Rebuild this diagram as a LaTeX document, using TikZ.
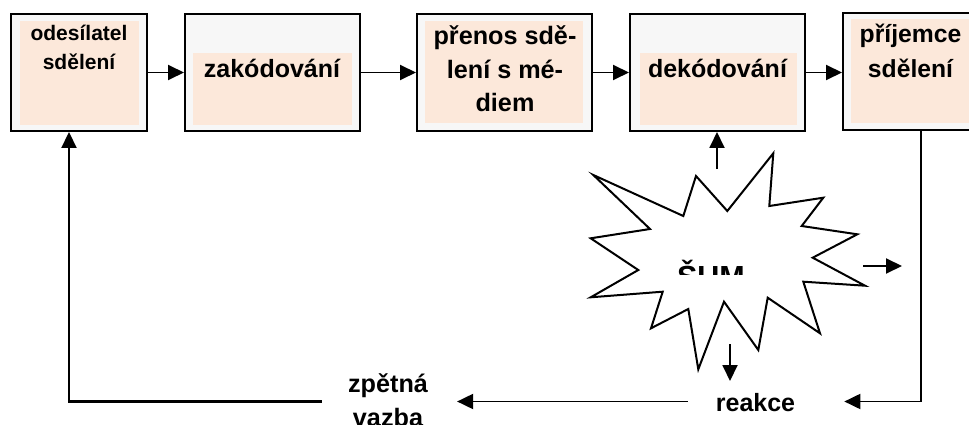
\documentclass[tikz,border=0pt]{standalone}
\usepackage{fontspec}
\setmainfont{Liberation Sans}
\usetikzlibrary{arrows.meta}
\definecolor{boxgray}{RGB}{247,247,247}
\definecolor{peach}{RGB}{252,232,218}
\begin{document}
\begin{tikzpicture}[x=1pt,y=-1pt,
  outerbox/.style={draw=black, line width=2pt, fill=boxgray, minimum height=117, inner sep=0pt},
  innerfill/.style={fill=peach},
  txt/.style={inner sep=0pt, font=\bfseries, align=center, anchor=base},
  arr/.style={line width=1.9pt, -{Triangle[length=16pt,width=15pt]}},
  fb/.style={line width=2.2pt},
  star/.style={line width=2pt, fill=white, line join=miter}]
\useasboundingbox (0,0) rectangle (969,425);
% boxes
\node[outerbox, minimum width=136] (p1) at (79,72.5) {};
\node[outerbox, minimum width=175] (p2) at (272.5,72.5) {};
\node[outerbox, minimum width=175] (p3) at (504.5,72.5) {};
\node[outerbox, minimum width=175] (p4) at (717.5,72.5) {};
\node[outerbox, minimum width=175] (p5) at (930.5,71.5) {};
\fill[innerfill] (20,21) rectangle (139,125);
\fill[innerfill] (193,53) rectangle (352,125);
\fill[innerfill] (425,21) rectangle (583,123);
\fill[innerfill] (640,53) rectangle (797,125);
\fill[innerfill] (851,19) rectangle (1010,123);
% texts (base anchor = baseline of the last line)
\node[txt, font=\bfseries\fontsize{21}{29}\selectfont] (t1) at (79,70) {odesílatel\\sdělení};
\node[txt, font=\bfseries\fontsize{25}{33}\selectfont] (t2) at (272,78) {zakódování};
\node[txt, font=\bfseries\fontsize{25.2}{33.4}\selectfont] (t3) at (505,111.7) {přenos sdě-\\lení s mé-\\diem};
\node[txt, font=\bfseries\fontsize{25}{33}\selectfont] (t4) at (717.5,78) {dekódování};
\node[txt, font=\bfseries\fontsize{24.7}{35.2}\selectfont] (t5) at (910.5,77.3) {příjemce\\sdělení};
% arrows between boxes
\draw[arr] (p1.east) -- (p2.west);
\draw[arr] (p2.east) -- (p3.west);
\draw[arr] (p3.east) -- (p4.west);
\draw[arr] (p4.east) -- (p4.east -| p5.west);
% star
\draw[star] (593.3,175) -- (683.3,216) -- (696,176) -- (727.3,211) -- (773.3,153.3) -- (769.3,206) -- (823.3,197.7) -- (801.7,226) -- (857.3,234.3) -- (812.7,257.7) -- (865,285.7) -- (803.3,281.7) -- (820,333.3) -- (767.7,297.7) -- (758.3,350) -- (724,301.7) -- (698.3,369.3) -- (688.3,309) -- (651,328.3) -- (662.7,291.7) -- (590.7,297.3) -- (638.3,270) -- (590.7,238.3) -- (650,229) -- cycle;
\begin{scope}
  \clip (650,250) rectangle (770,274);
  \node[txt, font=\bfseries\fontsize{30.5}{36}\selectfont] (sum) at (711,287) {ŠUM};
\end{scope}
% noise arrows
\coordinate (nUp) at (717,169);
\coordinate (nRa) at (863,266);
\coordinate (nRb) at (902,266);
\coordinate (nDa) at (730,344);
\coordinate (nDb) at (730,381);
\draw[arr] (nUp) -- (nUp |- p4.south);
\draw[arr] (nRa) -- (nRb);
\draw[arr] (nDa) -- (nDb);
% bottom labels
\node[txt, font=\bfseries\fontsize{25}{33}\selectfont] (reakce) at (755.5,411) {reakce};
\node[txt, font=\bfseries\fontsize{25.2}{34}\selectfont] (zv) at (388,426) {zpětná\\vazba};
% feedback loop
\coordinate (cR) at (921,401.5);
\coordinate (cL) at (69,401.5);
\draw[arr, shorten >=49pt] (p5.south -| cR) -- (cR) -- (cR -| reakce.east);
\draw[arr, shorten <=28pt, shorten >=29pt] (cR -| reakce.west) -- (cR -| zv.east);
\draw[fb, -{Triangle[length=16pt,width=15pt]}, shorten <=26pt] (cL -| zv.west) -- (cL) -- (cL |- p1.south);
\end{tikzpicture}
\end{document}
